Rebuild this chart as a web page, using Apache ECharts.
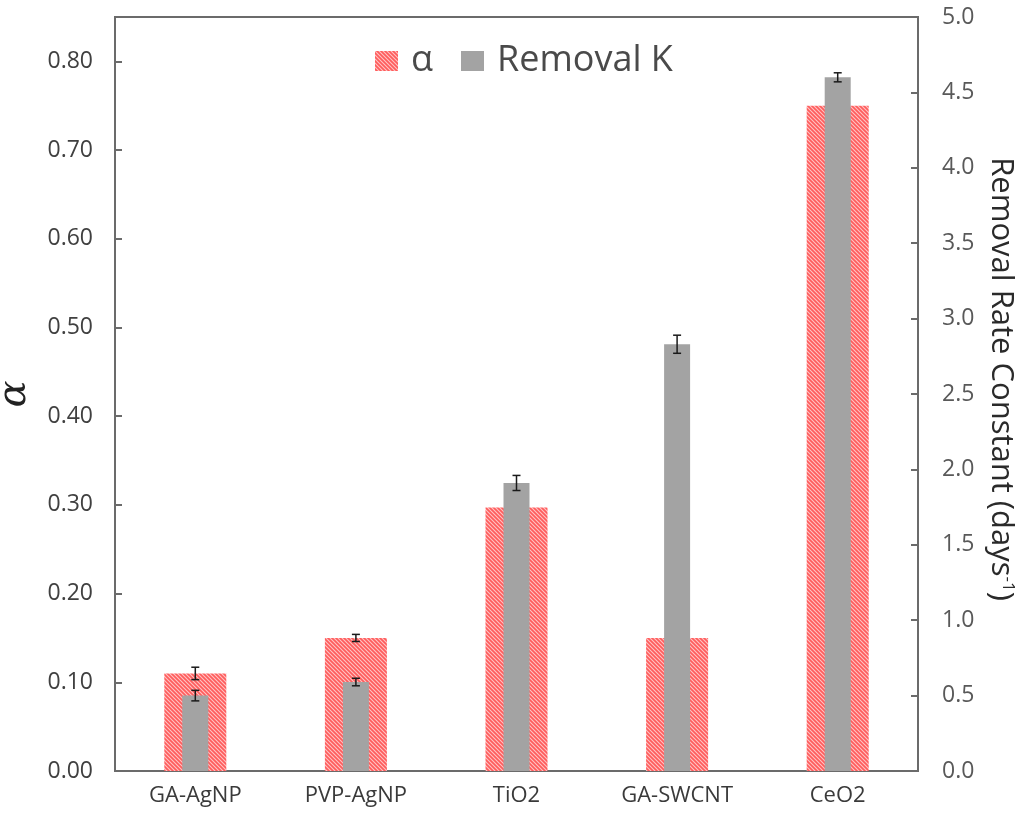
<!DOCTYPE html>
<html>
<head>
<meta charset="utf-8">
<script src="https://cdn.jsdelivr.net/npm/echarts@6/dist/echarts.min.js"></script>
<style>html,body{margin:0;padding:0;background:#fff}#c{width:1025px;height:820px}</style>
</head>
<body>
<div id="c"></div>
<script>
const categories = ['GA-AgNP', 'PVP-AgNP', 'TiO2', 'GA-SWCNT', 'CeO2'];
const alphaValues = [0.11, 0.15, 0.297, 0.15, 0.75];
const alphaErrors = [0.007, 0.004, 0, 0, 0];
const removalK = [0.50, 0.59, 1.91, 2.83, 4.60];
const removalKErrors = [0.035, 0.025, 0.05, 0.06, 0.03];
const alphaTicks = [0, 0.1, 0.2, 0.3, 0.4, 0.5, 0.6, 0.7, 0.8];
const kTicks = [0, 0.5, 1, 1.5, 2, 2.5, 3, 3.5, 4, 4.5, 5];

// hatched red pattern
const pc = document.createElement('canvas');
pc.width = 4; pc.height = 4;
const g = pc.getContext('2d');
g.fillStyle = '#ff5c5c';
g.fillRect(0, 0, 4, 4);
g.strokeStyle = '#ffc4c4';
g.lineWidth = 1.1;
g.beginPath();
g.moveTo(-1, -1); g.lineTo(5, 5);
g.moveTo(-1, 3); g.lineTo(1, 5);
g.moveTo(3, -1); g.lineTo(5, 1);
g.stroke();
const hatch = { image: pc, repeat: 'repeat' };

function errRender(params, api) {
  const x = api.value(0);
  const lo = api.coord([x, api.value(1)]);
  const hi = api.coord([x, api.value(2)]);
  const cw = 4;
  const st = { stroke: '#1a1a1a', lineWidth: 1.5 };
  return {
    type: 'group',
    children: [
      { type: 'line', shape: { x1: lo[0], y1: lo[1], x2: hi[0], y2: hi[1] }, style: st },
      { type: 'line', shape: { x1: lo[0] - cw, y1: lo[1], x2: lo[0] + cw, y2: lo[1] }, style: st },
      { type: 'line', shape: { x1: hi[0] - cw, y1: hi[1], x2: hi[0] + cw, y2: hi[1] }, style: st }
    ]
  };
}

const alphaErrData = alphaValues.map((v, i) => [i, v - alphaErrors[i], v + alphaErrors[i]]).filter((d, i) => alphaErrors[i] > 0);
const kErrData = removalK.map((v, i) => [i, v - removalKErrors[i], v + removalKErrors[i]]);

const labelColor = '#595959';
const axisColor = '#6b6b6b';
const font = 'Open Sans';

const chart = echarts.init(document.getElementById('c'));
chart.setOption({
  animation: false,
  backgroundColor: '#fff',
  grid: { left: 115, right: 107, top: 17, bottom: 49, show: true, borderColor: axisColor, borderWidth: 2,
    containLabel: false, outerBoundsMode: 'none' },
  legend: {
    data: ['α', 'Removal K'],
    left: 370, top: 38,
    itemWidth: 23, itemHeight: 20, itemGap: 28,
    icon: 'rect',
    textStyle: { fontSize: 36, color: '#4a4a4a', fontFamily: font, padding: [0, 0, 0, 8] }
  },
  xAxis: [
    { type: 'category', data: categories, axisTick: { show: false },
      axisLine: { lineStyle: { color: axisColor, width: 2 } },
      axisLabel: { fontSize: 22, color: '#3a3a3a', fontFamily: font, margin: 14 } },
    { type: 'category', data: categories, show: false, position: 'bottom' }
  ],
  yAxis: [
    { type: 'value', min: 0, max: 0.85, interval: 0.1, position: 'left',
      name: 'α', nameLocation: 'middle', nameGap: 80, nameRotate: 90,
      nameTextStyle: { fontSize: 40, fontStyle: 'italic', fontFamily: 'DejaVu Serif', color: '#222' },
      splitLine: { show: false },
      axisLine: { show: true, lineStyle: { color: axisColor, width: 2 } },
      axisTick: { show: true, inside: true, length: 7, lineStyle: { color: axisColor, width: 2 } },
      axisLabel: { fontSize: 23, color: '#404040', fontFamily: font, margin: 22,
        formatter: v => alphaTicks.some(t => Math.abs(t - v) < 1e-9) ? v.toFixed(2) : '' } },
    { type: 'value', min: 0, max: 5, interval: 0.5, position: 'right',
      name: 'Removal Rate Constant (days{sup|-1})', nameLocation: 'middle', nameGap: 54, nameRotate: -90,
      nameTextStyle: { fontSize: 31, fontFamily: font, color: '#2a2a2a', padding: [0, 30, 0, 0],
        rich: { sup: { fontSize: 17, fontFamily: font, color: '#2a2a2a', verticalAlign: 'top', padding: [0, 0, 12, 0] } } },
      splitLine: { show: false },
      axisLine: { show: true, lineStyle: { color: axisColor, width: 2 } },
      axisTick: { show: true, inside: true, length: 7, lineStyle: { color: axisColor, width: 2 } },
      axisLabel: { fontSize: 23, color: labelColor, fontFamily: font, margin: 24,
        formatter: v => kTicks.some(t => Math.abs(t - v) < 1e-9) ? v.toFixed(1) : '' } }
  ],
  series: [
    { name: 'α', type: 'bar', xAxisIndex: 0, yAxisIndex: 0, data: alphaValues, barWidth: 62,
      itemStyle: { color: hatch } },
    { name: 'Removal K', type: 'bar', xAxisIndex: 1, yAxisIndex: 1, data: removalK, barWidth: 26,
      itemStyle: { color: '#a3a3a3' } },
    { name: 'αerr', type: 'custom', xAxisIndex: 0, yAxisIndex: 0, data: alphaErrData, renderItem: errRender, z: 10 },
    { name: 'kerr', type: 'custom', xAxisIndex: 1, yAxisIndex: 1, data: kErrData, renderItem: errRender, z: 10 }
  ]
});
</script>
</body>
</html>
